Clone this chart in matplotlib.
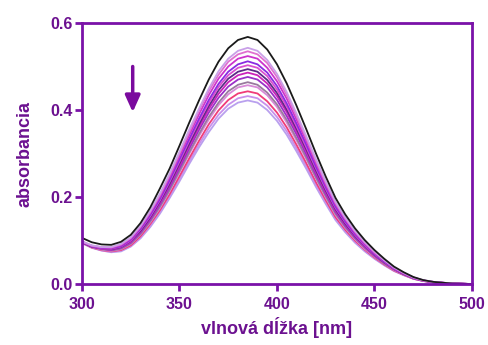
import matplotlib
matplotlib.use("Agg")
import matplotlib.pyplot as plt

# wavelength grid (nm)
wavelength = [300, 305, 310, 315, 320, 325, 330, 335, 340, 345, 350, 355, 360, 365, 370, 375,
              380, 385, 390, 395, 400, 405, 410, 415, 420, 425, 430, 435, 440, 445, 450, 455,
              460, 465, 470, 475, 480, 490, 500]

# initial spectrum
spectrum_0 = [0.106, 0.096, 0.091, 0.090, 0.097, 0.113, 0.140, 0.176, 0.220, 0.266, 0.318, 0.371, 0.422, 0.470, 0.511, 0.542,
              0.561, 0.568, 0.561, 0.539, 0.505, 0.461, 0.410, 0.356, 0.300, 0.247, 0.198, 0.160, 0.128, 0.101, 0.078, 0.058,
              0.040, 0.027, 0.016, 0.009, 0.005, 0.001, 0.000]

# successive spectra (decreasing absorbance)
spectrum_1 = [0.098, 0.089, 0.085, 0.085, 0.092, 0.107, 0.134, 0.168, 0.208, 0.254, 0.304, 0.355, 0.403, 0.449, 0.489, 0.518,
              0.536, 0.543, 0.536, 0.515, 0.483, 0.441, 0.392, 0.340, 0.287, 0.236, 0.189, 0.153, 0.122, 0.097, 0.075, 0.055,
              0.038, 0.026, 0.015, 0.009, 0.005, 0.001, 0.000]
spectrum_2 = [0.098, 0.088, 0.085, 0.084, 0.091, 0.106, 0.132, 0.166, 0.205, 0.251, 0.300, 0.349, 0.398, 0.443, 0.481, 0.511,
              0.528, 0.535, 0.528, 0.508, 0.476, 0.434, 0.386, 0.335, 0.283, 0.233, 0.187, 0.151, 0.121, 0.095, 0.073, 0.055,
              0.038, 0.025, 0.015, 0.008, 0.005, 0.001, 0.000]
spectrum_3 = [0.097, 0.088, 0.084, 0.083, 0.089, 0.104, 0.130, 0.163, 0.201, 0.246, 0.294, 0.342, 0.390, 0.434, 0.472, 0.500,
              0.518, 0.524, 0.518, 0.497, 0.466, 0.426, 0.378, 0.329, 0.277, 0.228, 0.183, 0.148, 0.118, 0.093, 0.072, 0.054,
              0.037, 0.025, 0.015, 0.008, 0.005, 0.001, 0.000]
spectrum_4 = [0.097, 0.087, 0.083, 0.082, 0.087, 0.102, 0.127, 0.159, 0.196, 0.240, 0.287, 0.334, 0.380, 0.423, 0.460, 0.488,
              0.505, 0.512, 0.505, 0.486, 0.455, 0.415, 0.369, 0.321, 0.270, 0.223, 0.178, 0.144, 0.115, 0.091, 0.070, 0.052,
              0.036, 0.024, 0.014, 0.008, 0.005, 0.001, 0.000]
spectrum_5 = [0.097, 0.087, 0.082, 0.081, 0.086, 0.100, 0.125, 0.156, 0.193, 0.236, 0.282, 0.329, 0.374, 0.416, 0.453, 0.480,
              0.497, 0.503, 0.497, 0.478, 0.447, 0.408, 0.363, 0.315, 0.266, 0.219, 0.175, 0.142, 0.113, 0.089, 0.069, 0.051,
              0.035, 0.024, 0.014, 0.008, 0.004, 0.001, 0.000]
spectrum_6 = [0.096, 0.086, 0.082, 0.080, 0.085, 0.099, 0.122, 0.153, 0.190, 0.231, 0.277, 0.323, 0.367, 0.409, 0.445, 0.472,
              0.488, 0.494, 0.488, 0.469, 0.439, 0.401, 0.357, 0.310, 0.261, 0.215, 0.172, 0.139, 0.111, 0.088, 0.068, 0.050,
              0.035, 0.023, 0.014, 0.008, 0.004, 0.001, 0.000]
spectrum_7 = [0.096, 0.086, 0.081, 0.079, 0.084, 0.097, 0.120, 0.151, 0.187, 0.228, 0.272, 0.318, 0.361, 0.402, 0.437, 0.464,
              0.480, 0.486, 0.480, 0.461, 0.432, 0.395, 0.351, 0.305, 0.257, 0.211, 0.169, 0.137, 0.110, 0.086, 0.067, 0.050,
              0.034, 0.023, 0.014, 0.008, 0.004, 0.001, 0.000]
spectrum_8 = [0.096, 0.086, 0.081, 0.078, 0.083, 0.095, 0.118, 0.148, 0.183, 0.223, 0.266, 0.311, 0.354, 0.394, 0.428, 0.454,
              0.470, 0.476, 0.470, 0.452, 0.423, 0.386, 0.344, 0.298, 0.251, 0.207, 0.166, 0.134, 0.107, 0.085, 0.065, 0.049,
              0.034, 0.023, 0.013, 0.008, 0.004, 0.001, 0.000]
spectrum_9 = [0.095, 0.085, 0.080, 0.077, 0.081, 0.093, 0.115, 0.144, 0.178, 0.217, 0.260, 0.303, 0.345, 0.384, 0.417, 0.443,
              0.458, 0.464, 0.458, 0.440, 0.413, 0.377, 0.335, 0.291, 0.245, 0.202, 0.162, 0.131, 0.105, 0.083, 0.064, 0.047,
              0.033, 0.022, 0.013, 0.007, 0.004, 0.001, 0.000]
spectrum_10 = [0.095, 0.085, 0.079, 0.076, 0.080, 0.092, 0.114, 0.142, 0.175, 0.214, 0.256, 0.299, 0.340, 0.378, 0.411, 0.436,
               0.452, 0.457, 0.452, 0.434, 0.407, 0.371, 0.330, 0.287, 0.242, 0.199, 0.159, 0.129, 0.103, 0.081, 0.063, 0.047,
               0.032, 0.022, 0.013, 0.007, 0.004, 0.001, 0.000]
spectrum_11 = [0.095, 0.084, 0.078, 0.075, 0.078, 0.089, 0.110, 0.138, 0.170, 0.207, 0.248, 0.289, 0.329, 0.367, 0.399, 0.423,
               0.438, 0.443, 0.438, 0.420, 0.394, 0.360, 0.320, 0.278, 0.234, 0.193, 0.154, 0.125, 0.100, 0.079, 0.061, 0.045,
               0.031, 0.021, 0.012, 0.007, 0.004, 0.001, 0.000]
spectrum_12 = [0.094, 0.084, 0.077, 0.074, 0.077, 0.087, 0.107, 0.134, 0.166, 0.202, 0.242, 0.282, 0.321, 0.358, 0.389, 0.412,
               0.427, 0.432, 0.427, 0.410, 0.384, 0.351, 0.312, 0.271, 0.228, 0.188, 0.151, 0.122, 0.097, 0.077, 0.059, 0.044,
               0.030, 0.021, 0.012, 0.007, 0.004, 0.001, 0.000]
spectrum_13 = [0.094, 0.083, 0.077, 0.073, 0.075, 0.086, 0.105, 0.131, 0.162, 0.198, 0.236, 0.276, 0.314, 0.349, 0.380, 0.403,
               0.417, 0.422, 0.417, 0.400, 0.375, 0.343, 0.305, 0.265, 0.223, 0.184, 0.147, 0.119, 0.095, 0.075, 0.058, 0.043,
               0.030, 0.020, 0.012, 0.007, 0.004, 0.001, 0.000]

series = [spectrum_1, spectrum_2, spectrum_3, spectrum_4, spectrum_5, spectrum_6, spectrum_7,
          spectrum_8, spectrum_9, spectrum_10, spectrum_11, spectrum_12, spectrum_13]
colors = ['#c9a0e8', '#e070d0', '#cc33cc', '#8a2be2', '#d94fd0', '#5b2a86', '#cc22bb',
          '#9b30c8', '#9a7a9e', '#d98ad8', '#f03c78', '#c890ec', '#b9a0ee']

x_ticks = [300, 350, 400, 450, 500]
y_ticks = [0.0, 0.2, 0.4, 0.6]
y_tick_labels = ['0.0', '0.2', '0.4', '0.6']

axis_color = '#7a12a8'
text_color = '#6c1190'

plt.rcParams['font.family'] = ['Liberation Sans', 'DejaVu Sans']

fig = plt.figure(figsize=(4.89, 3.45), dpi=100)
ax = fig.add_axes([0.1677, 0.1768, 0.7975, 0.7565])

for s, c in zip(series[::-1], colors[::-1]):
    ax.plot(wavelength, s, color=c, lw=1.3, solid_joinstyle='round')
ax.plot(wavelength, spectrum_0, color='#1a1a1a', lw=1.3, solid_joinstyle='round')

# arrow showing the direction of change
ax.annotate('', xy=(326, 0.395), xytext=(326, 0.50),
            arrowprops=dict(arrowstyle='-|>,head_width=0.45,head_length=1.0',
                            color='#7a0a9e', lw=2.5, shrinkA=0, shrinkB=0))

ax.set_xlim(300, 500)
ax.set_ylim(0, 0.6)
ax.set_xticks(x_ticks)
ax.set_yticks(y_ticks)
ax.set_yticklabels(y_tick_labels)

for sp in ax.spines.values():
    sp.set_color(axis_color)
    sp.set_linewidth(2.0)

ax.tick_params(axis='both', colors=axis_color, width=2.0, length=5, direction='out',
               labelsize=11.5, labelcolor=text_color)
ax.tick_params(axis='x', pad=4)
ax.tick_params(axis='y', pad=2)
for lbl in ax.get_xticklabels() + ax.get_yticklabels():
    lbl.set_fontweight('bold')

ax.set_xlabel('vlnová dĺžka [nm]', fontsize=13, fontweight='bold', color=text_color, labelpad=4)
ax.set_ylabel('absorbancia', fontsize=13, fontweight='bold', color=text_color, labelpad=12)

fig.savefig('out.png', dpi=100)
